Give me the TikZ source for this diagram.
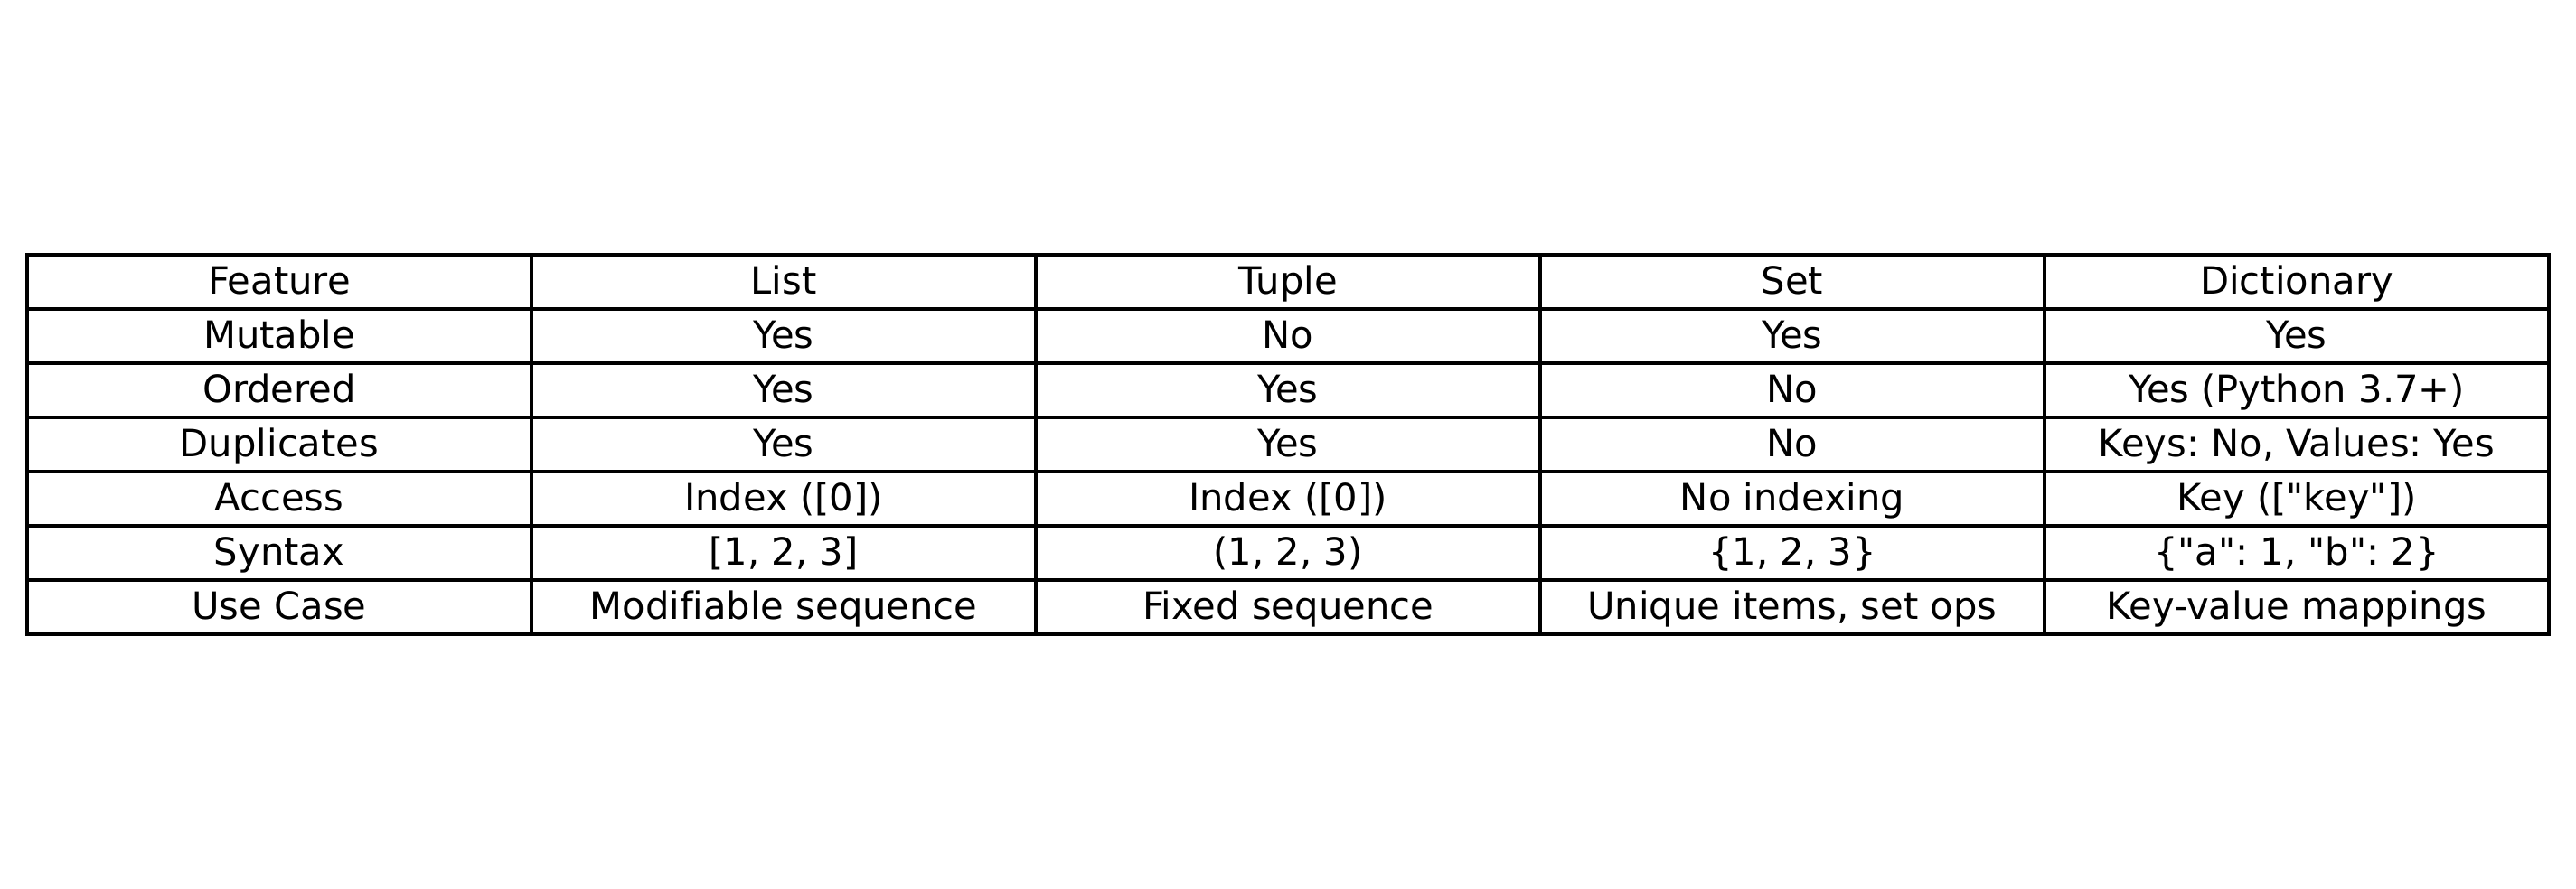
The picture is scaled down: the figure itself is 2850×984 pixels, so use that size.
\documentclass[tikz,border=0pt]{standalone}
\usepackage{fontspec}
\newfontfamily\tabfont{DejaVu Sans}[Ligatures=NoCommon]
\begin{document}
\frenchspacing
\begin{tikzpicture}[x=0.24pt,y=-0.24pt,
  celltext/.style={anchor=base,inner sep=0pt,font=\tabfont\fontsize{10}{12}\selectfont},
  gridline/.style={line width=0.96pt,draw=black,line cap=rect}]
\useasboundingbox (0,0) rectangle (2850,984);
\fill[white] (0,0) rectangle (2850,984);
% grid
\foreach \i in {0,...,7} {
  \draw[gridline] (30,282+60*\i) -- (2820,282+60*\i);
}
\foreach \j in {0,...,5} {
  \draw[gridline] (30+558*\j,282) -- (30+558*\j,702);
}
% cell text
\newcommand{\rowtext}[6]{%
  \node[celltext] (c#1a) at (309,#2) {#3};
  \node[celltext] (c#1b) at (867,#2) {#4};
  \node[celltext] (c#1c) at (1425,#2) {#5};
  \node[celltext] (c#1d) at (1983,#2) {#6};
}
\rowtext{0}{325.3}{Feature}{List}{Tuple}{Set}
\node[celltext] (c0e) at (2541,325.3) {Dictionary};
\rowtext{1}{385.3}{Mutable}{Yes}{No}{Yes}
\node[celltext] (c1e) at (2541,385.3) {Yes};
\rowtext{2}{445.3}{Ordered}{Yes}{Yes}{No}
\node[celltext] (c2e) at (2541,445.3) {Yes (Python 3.7+)};
\rowtext{3}{505.3}{Duplicates}{Yes}{Yes}{No}
\node[celltext] (c3e) at (2541,505.3) {Keys: No, Values: Yes};
\rowtext{4}{565.3}{Access}{Index ([0])}{Index ([0])}{No indexing}
\node[celltext] (c4e) at (2541,565.3) {Key (["key"])};
\rowtext{5}{625.3}{Syntax}{[1, 2, 3]}{(1, 2, 3)}{\{1, 2, 3\}}
\node[celltext] (c5e) at (2541,625.3) {\{"a": 1, "b": 2\}};
\rowtext{6}{685.3}{Use Case}{Modifiable sequence}{Fixed sequence}{Unique items, set ops}
\node[celltext] (c6e) at (2541,685.3) {Key-value mappings};
\end{tikzpicture}
\end{document}
